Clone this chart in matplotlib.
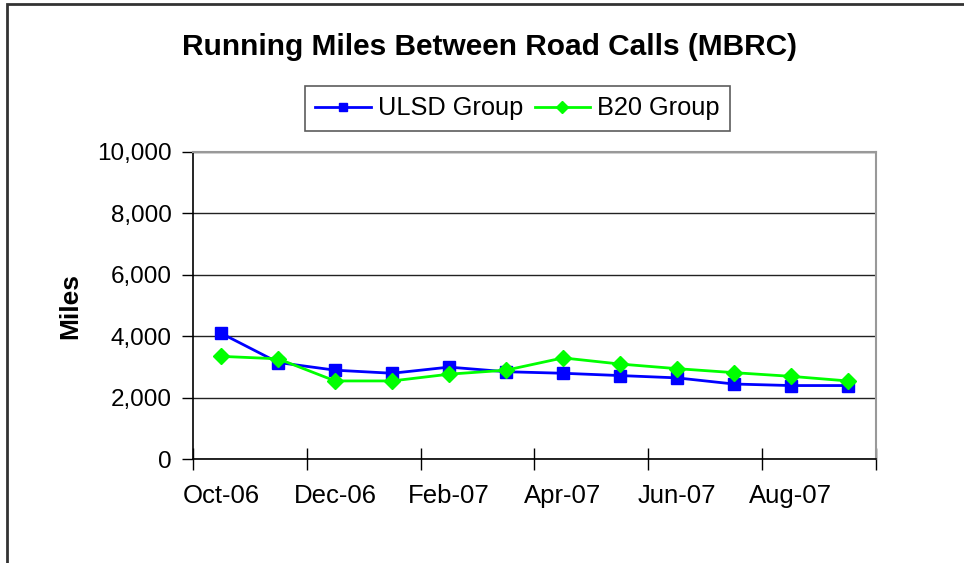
import matplotlib
matplotlib.use("Agg")
import matplotlib.pyplot as plt
import numpy as np
from matplotlib.patches import Rectangle
from matplotlib.ticker import FuncFormatter, FixedLocator

months = ["Oct-06", "Nov-06", "Dec-06", "Jan-07", "Feb-07", "Mar-07",
          "Apr-07", "May-07", "Jun-07", "Jul-07", "Aug-07", "Sep-07"]
ulsd = [4100, 3150, 2900, 2800, 3000, 2850, 2800, 2725, 2650, 2450, 2400, 2400]
b20 = [3350, 3270, 2550, 2550, 2770, 2900, 3300, 3100, 2950, 2820, 2700, 2550]

plt.rcParams['font.family'] = ['Liberation Sans', 'DejaVu Sans']

fig = plt.figure(figsize=(9.64, 5.63), dpi=100)
ax = fig.add_axes([192.7/964, 1-459.3/563, (876.3-192.7)/964, (459.3-152)/563])

x = np.arange(len(months))
ax.plot(x, ulsd, color='#0000FF', lw=2, marker='s', ms=8, mec='#0000FF', mfc='#0000FF', label='ULSD Group', zorder=3)
ax.plot(x, b20, color='#00FF00', lw=2, marker='D', ms=8, mec='#00FF00', mfc='#00FF00', label='B20 Group', zorder=3)

ax.set_xlim(-0.5, len(months) - 0.5)
ax.set_ylim(0, 10000)
ax.set_yticks(np.arange(0, 10001, 2000))
ax.yaxis.set_major_formatter(FuncFormatter(lambda v, p: f"{int(v):,}"))
ax.yaxis.grid(True, color='#222222', lw=1)
ax.set_axisbelow(True)

ax.xaxis.set_major_locator(FixedLocator(np.arange(-0.5, len(months), 2)))
ax.xaxis.set_minor_locator(FixedLocator(x[::2]))
ax.set_xticklabels([], minor=False)
ax.set_xticks(x[::2], [months[i] for i in x[::2]], minor=True)
ax.tick_params(axis='x', which='major', direction='inout', length=16, width=1, color='black')
ax.tick_params(axis='x', which='minor', length=0, pad=18, labelsize=18.5)
ax.tick_params(axis='y', direction='out', length=8, width=1, pad=7, labelsize=17.5)

for s in ['left', 'bottom']:
    ax.spines[s].set_color('black')
    ax.spines[s].set_linewidth(1.2)
for s in ['top', 'right']:
    ax.spines[s].set_color('#999999')
    ax.spines[s].set_linewidth(1.5)

ax.set_ylabel('Miles', fontsize=19, fontweight='bold')
ax.yaxis.set_label_coords((82-192.7)/(876.3-192.7), 0.5)

fig.text(490/964, 1-47/563, 'Running Miles Between Road Calls (MBRC)', ha='center', va='center',
         fontsize=21.5, fontweight='bold')

leg = ax.legend(loc='center', bbox_to_anchor=(517.5/964, 1-108.5/563), bbox_transform=fig.transFigure,
                ncol=2, fontsize=18.3, frameon=True, fancybox=False, edgecolor='#333333',
                handlelength=2.17, handletextpad=0.28, columnspacing=0.47, borderpad=0.4,
                markerscale=0.75)
leg.get_frame().set_linewidth(1.2)

fig.patches.append(Rectangle((7/964, -0.1), 1.2, 1-4/563+0.1, transform=fig.transFigure,
                             fill=False, edgecolor='#333333', lw=2))

fig.savefig('out.png', dpi=100)
